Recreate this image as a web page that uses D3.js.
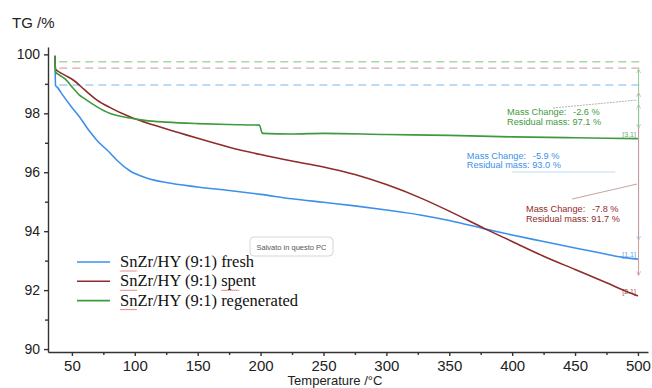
<!DOCTYPE html>
<html lang="en">
<head>
<meta charset="UTF-8">
<title>TG curves</title>
<script src="https://d3js.org/d3.v7.min.js"></script>
<style>
  body { margin: 0; background: #fff; }
  svg { display: block; font-family: "Liberation Sans", Arial, sans-serif; }
  .tick text { fill: #222; }
</style>
</head>
<body>
<svg id="chart" width="652" height="388"></svg>
<script>
// temperatures (°C) and TG (%)
const freshT = [36.5, 37, 38.5, 43, 50, 56.4, 63, 70, 80, 86, 96, 110, 125, 150, 175, 200, 225, 250, 275, 300, 327, 350, 379, 400, 425, 450, 475, 487, 500];
const freshV = [99.95, 98.95, 98.88, 98.6, 98.2, 97.86, 97.45, 97.08, 96.67, 96.4, 96.05, 95.8, 95.65, 95.5, 95.38, 95.25, 95.1, 94.98, 94.86, 94.72, 94.55, 94.36, 94.07, 93.87, 93.65, 93.43, 93.22, 93.12, 93.05];

const spentT = [36.5, 37, 40, 45, 51, 60, 70, 80, 96, 115, 136, 150, 175, 200, 225, 250, 275, 300, 327, 350, 379, 400, 425, 450, 475, 494, 500];
const spentV = [99.95, 99.5, 99.4, 99.28, 99.13, 98.8, 98.45, 98.2, 97.88, 97.6, 97.33, 97.15, 96.85, 96.6, 96.38, 96.18, 95.92, 95.58, 95.13, 94.68, 94.07, 93.65, 93.15, 92.7, 92.25, 91.9, 91.8];

const regenT = [36.5, 37, 40, 45, 51, 56, 60, 70, 80, 96, 108, 125, 150, 175, 199, 201.5, 225, 250, 300, 350, 400, 450, 500];
const regenV = [99.95, 99.4, 99.3, 99.15, 98.85, 98.62, 98.5, 98.22, 98.0, 97.84, 97.76, 97.7, 97.65, 97.62, 97.6, 97.32, 97.3, 97.32, 97.28, 97.25, 97.2, 97.17, 97.14];

const seriesColors = ["#3d90ea", "#8e2b2b", "#3e9a3e"];
const dashColors = ["#a9d0f2", "#d9a9a9", "#a8d8a8"];
const arrowColors = ["#8cc0ee", "#c99a9a", "#8fcb8f"];
const startLevels = [98.96, 99.53, 99.75];
const endLabels = ["[1.1]", "[2.1]", "[3.1]"];

const xTicks = [50, 100, 150, 200, 250, 300, 350, 400, 450, 500];
const yTicks = [90, 92, 94, 96, 98, 100];

// annotations: text anchor [T, TG], mass change, residual
const massChange = ["-5.9 %", "-7.8 %", "-2.6 %"];
const residual = ["93.0 %", "91.7 %", "97.1 %"];
const annoAt = [[364, 96.45], [411, 94.65], [396, 97.94]];
const arrowSpan = [[98.3, 93.7], [98.7, 92.5], [99.5, 97.5]];
const leaders = [
  [[400, 96.01], [482, 96.01]],
  [[447.6, 95.09], [499.3, 95.6]],
  [[432.5, 98.18], [499.3, 98.45]]
];

const svg = d3.select("#chart");
const x = d3.scaleLinear().domain([31, 508]).range([48, 648]);
const y = d3.scaleLinear().domain([89.9, 100.25]).range([352, 47]);

// axes
const xAxis = svg.append("g").attr("transform", "translate(0,352)")
  .call(d3.axisBottom(x).tickValues(xTicks).tickSize(4).tickPadding(4).tickSizeOuter(0));
xAxis.selectAll("text").attr("font-size", 15);
svg.append("g").attr("transform", "translate(0,352)")
  .call(d3.axisBottom(x).tickValues(d3.range(75, 500, 50)).tickSize(3).tickFormat(""))
  .select(".domain").remove();

const yAxis = svg.append("g").attr("transform", "translate(48,0)")
  .call(d3.axisLeft(y).tickValues(yTicks).tickSize(4).tickPadding(4).tickSizeOuter(0));
yAxis.selectAll("text").attr("font-size", 14);
svg.append("g").attr("transform", "translate(48,0)")
  .call(d3.axisLeft(y).tickValues([91, 93, 95, 97, 99]).tickSize(3).tickFormat(""))
  .select(".domain").remove();

svg.selectAll(".domain, .tick line").attr("stroke", "#333").attr("stroke-width", 1.4);

svg.append("text").attr("x", 12).attr("y", 28).attr("font-size", 15).attr("fill", "#222").text("TG /%");
svg.append("text").attr("x", 335).attr("y", 385).attr("text-anchor", "middle")
  .attr("font-size", 13).attr("fill", "#222").text("Temperature /°C");

// dashed start levels
svg.selectAll(".lvl").data(startLevels).enter().append("line")
  .attr("x1", x(40)).attr("x2", x(505))
  .attr("y1", d => y(d)).attr("y2", d => y(d))
  .attr("stroke", (d, i) => dashColors[i]).attr("stroke-width", 1.3)
  .attr("stroke-dasharray", "8,5");

// curves
const series = [
  freshT.map((t, i) => [t, freshV[i]]),
  spentT.map((t, i) => [t, spentV[i]]),
  regenT.map((t, i) => [t, regenV[i]])
];
const line = d3.line().x(d => x(d[0])).y(d => y(d[1])).curve(d3.curveMonotoneX);
svg.selectAll(".curve").data(series).enter().append("path")
  .attr("d", line).attr("fill", "none")
  .attr("stroke", (d, i) => seriesColors[i]).attr("stroke-width", 1.6);

// end labels
svg.selectAll(".endlab").data(series).enter().append("text")
  .attr("x", x(500) - 2).attr("y", d => y(d[d.length - 1][1]) - 2)
  .attr("text-anchor", "end").attr("font-size", 7)
  .attr("fill", (d, i) => seriesColors[i]).attr("opacity", 0.8)
  .text((d, i) => endLabels[i]);

// vertical arrows at the right end
const defs = svg.append("defs");
arrowColors.forEach((c, i) => {
  defs.append("marker").attr("id", "arr" + i).attr("viewBox", "0 0 10 10")
    .attr("refX", 9).attr("refY", 5).attr("markerWidth", 5).attr("markerHeight", 5)
    .attr("orient", "auto-start-reverse")
    .append("path").attr("d", "M1,1L9,5L1,9").attr("fill", "none").attr("stroke", c).attr("stroke-width", 1.5);
});
svg.selectAll(".arrow").data(arrowSpan).enter().append("line")
  .attr("x1", x(500.5)).attr("x2", x(500.5))
  .attr("y1", d => y(d[0])).attr("y2", d => y(d[1]))
  .attr("stroke", (d, i) => arrowColors[i]).attr("stroke-width", 1)
  .attr("marker-start", (d, i) => "url(#arr" + i + ")")
  .attr("marker-end", (d, i) => "url(#arr" + i + ")");

// leader lines
svg.selectAll(".lead").data(leaders).enter().append("line")
  .attr("x1", d => x(d[0][0])).attr("y1", d => y(d[0][1]))
  .attr("x2", d => x(d[1][0])).attr("y2", d => y(d[1][1]))
  .attr("stroke", (d, i) => ["#b7d8f4", "#b99", "#aaa"][i]).attr("stroke-width", 0.9)
  .attr("stroke-dasharray", (d, i) => i === 2 ? "2,1" : null);

// annotation texts
const anno = svg.selectAll(".anno").data(annoAt).enter().append("g")
  .attr("transform", d => `translate(${x(d[0])},${y(d[1])})`)
  .attr("font-size", 9.2)
  .attr("fill", (d, i) => seriesColors[i]);
anno.append("text").attr("y", 0).text("Mass Change:");
anno.append("text").attr("x", 66).attr("y", 0).text((d, i) => massChange[i]);
anno.append("text").attr("y", 9.5).text((d, i) => "Residual mass:  " + residual[i]);

// legend
const seriesNames = ["SnZr/HY (9:1) fresh", "SnZr/HY (9:1) spent", "SnZr/HY (9:1) regenerated"];
const spellMarks = [[[0, 4]], [[0, 4], [14, 5]], [[0, 4]]]; // spell-check squiggles [start, length]
const legend = svg.append("g").attr("transform", "translate(77,262)");
const item = legend.selectAll(".item").data(seriesNames).enter().append("g")
  .attr("transform", (d, i) => `translate(0,${i * 19.3})`);
item.append("line").attr("x1", 0).attr("x2", 33)
  .attr("stroke", (d, i) => seriesColors[i]).attr("stroke-width", 1.6);
item.each(function (d, i) {
  const g = d3.select(this);
  const t = g.append("text").attr("x", 43).attr("y", 5)
    .attr("font-family", "'Liberation Serif', 'Times New Roman', serif")
    .attr("font-size", 16.5).attr("fill", "#111").text(d);
  const node = t.node();
  spellMarks[i].forEach(([s, n]) => {
    const x0 = 43 + (s ? node.getSubStringLength(0, s) : 0);
    const w = node.getSubStringLength(s, n);
    let p = `M${x0},8.5`;
    for (let k = 0; k < w; k += 2) p += `l1,${(k / 2) % 2 ? -1 : 1}`;
    g.append("path").attr("d", p).attr("fill", "none")
      .attr("stroke", "#e06060").attr("stroke-width", 0.8);
  });
});

// screenshot tooltip
const tip = svg.append("g").attr("transform", "translate(250,237)");
tip.append("rect").attr("width", 83).attr("height", 19).attr("rx", 4)
  .attr("fill", "#fff").attr("stroke", "#ccc").attr("stroke-width", 0.8);
tip.append("text").attr("x", 41.5).attr("y", 12.5).attr("text-anchor", "middle")
  .attr("font-size", 7.5).attr("fill", "#555").text("Salvato in questo PC");
</script>
</body>
</html>
